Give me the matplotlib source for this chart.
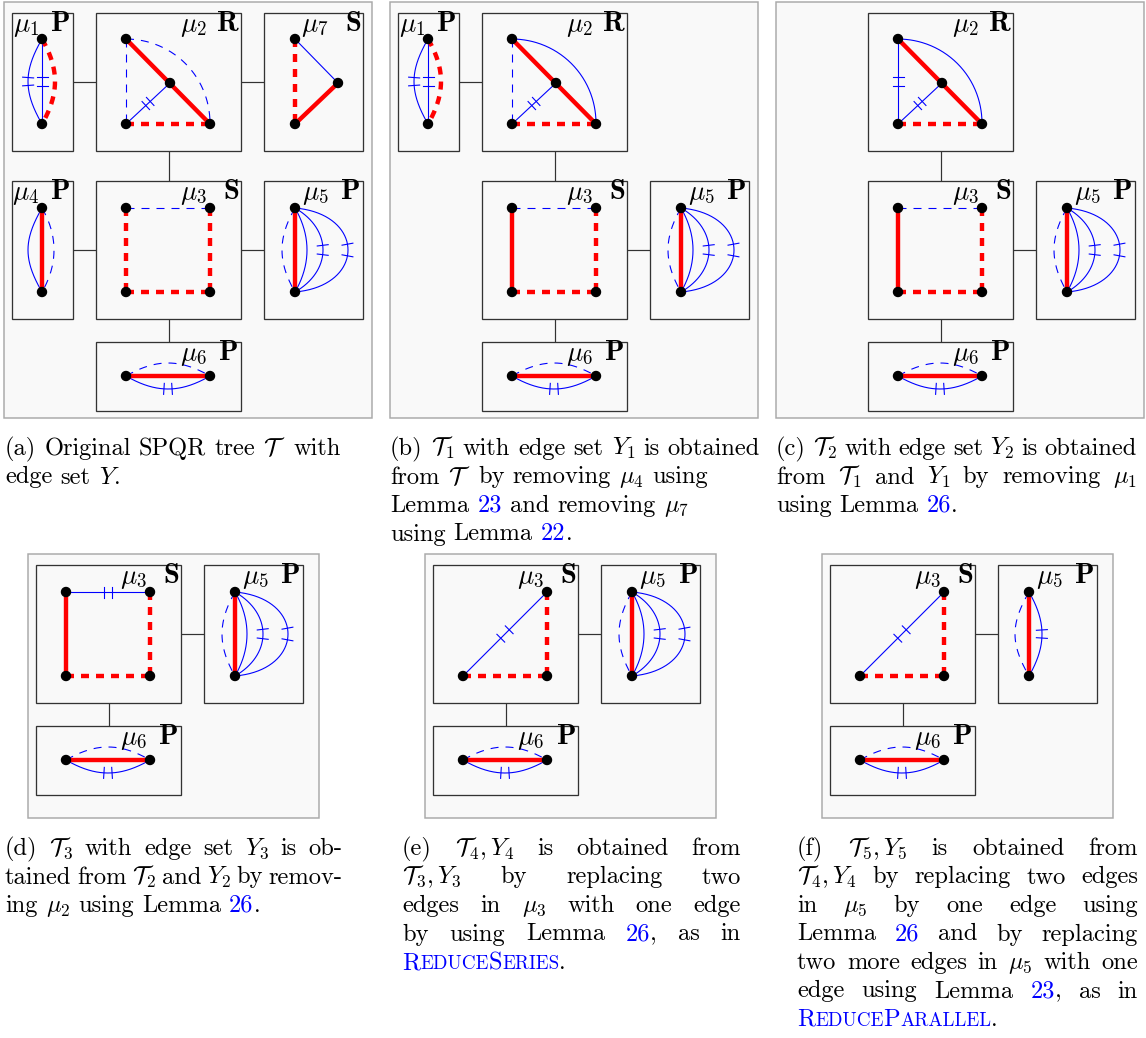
import re
import numpy as np
import matplotlib
matplotlib.use('Agg')
import matplotlib.pyplot as plt
from matplotlib.patches import Rectangle, Circle

plt.rcParams['mathtext.fontset'] = 'cm'
plt.rcParams['lines.scale_dashes'] = False

# ---- layout of the SPQR tree, in pixels of panel (a) ----
# node boxes: (left, top, right, bottom)
boxes = {
    1: (12, 13, 73, 151),
    2: (96, 13, 241, 151),
    7: (264, 13, 363, 151),
    4: (12, 181, 73, 319),
    3: (96, 181, 241, 319),
    5: (264, 181, 363, 319),
    6: (96, 342, 241, 411),
}
kinds = {1: 'P', 2: 'R', 7: 'S', 4: 'P', 3: 'S', 5: 'P', 6: 'P'}

verts = {
    1: {'t': (42, 39), 'b': (42, 124)},
    2: {'tl': (126, 39), 'm': (170, 83), 'bl': (126, 124), 'br': (210, 124)},
    7: {'t': (295, 39), 'r': (338, 83), 'b': (295, 124)},
    4: {'t': (42, 208), 'b': (42, 292)},
    3: {'tl': (126, 208), 'tr': (210, 208), 'bl': (126, 292), 'br': (210, 292)},
    5: {'t': (295, 208), 'b': (295, 292)},
    6: {'l': (126, 376), 'r': (210, 376)},
}

# edges: (u, v, style, bulge, out angle, double tick)
E_mu1 = [('t', 'b', 'B', -14, 30, 1), ('t', 'b', 'B', 0, 0, 1), ('t', 'b', 'Rd', 13, 30, 0)]
E_mu2_a = [('tl', 'bl', 'Bd', 0, 0, 0), ('bl', 'm', 'B', 0, 0, 1), ('tl', 'br', 'Bd', 25, 45, 0),
           ('tl', 'br', 'R', 0, 0, 0), ('bl', 'br', 'Rd', 0, 0, 0)]
E_mu2_b = [('tl', 'bl', 'Bd', 0, 0, 0), ('bl', 'm', 'B', 0, 0, 1), ('tl', 'br', 'B', 25, 45, 0),
           ('tl', 'br', 'R', 0, 0, 0), ('bl', 'br', 'Rd', 0, 0, 0)]
E_mu2_c = [('tl', 'bl', 'B', 0, 0, 1), ('bl', 'm', 'B', 0, 0, 1), ('tl', 'br', 'B', 25, 45, 0),
           ('tl', 'br', 'R', 0, 0, 0), ('bl', 'br', 'Rd', 0, 0, 0)]
E_mu7 = [('t', 'r', 'B', 0, 0, 0), ('t', 'b', 'Rd', 0, 0, 0), ('r', 'b', 'R', 0, 0, 0)]
E_mu4 = [('t', 'b', 'B', -14, 30, 0), ('t', 'b', 'Bd', 12, 30, 0), ('t', 'b', 'R', 0, 0, 0)]
E_mu3_a = [('tl', 'tr', 'Bd', 0, 0, 0), ('tl', 'bl', 'Rd', 0, 0, 0),
           ('tr', 'br', 'Rd', 0, 0, 0), ('bl', 'br', 'Rd', 0, 0, 0)]
E_mu3_b = [('tl', 'tr', 'Bd', 0, 0, 0), ('tl', 'bl', 'R', 0, 0, 0),
           ('tr', 'br', 'Rd', 0, 0, 0), ('bl', 'br', 'Rd', 0, 0, 0)]
E_mu3_d = [('tl', 'tr', 'B', 0, 0, 1), ('tl', 'bl', 'R', 0, 0, 0),
           ('tr', 'br', 'Rd', 0, 0, 0), ('bl', 'br', 'Rd', 0, 0, 0)]
E_mu3_e = [('bl', 'tr', 'B', 0, 0, 1), ('tr', 'br', 'Rd', 0, 0, 0), ('bl', 'br', 'Rd', 0, 0, 0)]
E_mu5 = [('t', 'b', 'Bd', -13, 30, 0), ('t', 'b', 'B', 12, 30, 0), ('t', 'b', 'B', 28, 60, 1),
         ('t', 'b', 'B', 53, 85, 1), ('t', 'b', 'R', 0, 0, 0)]
E_mu5_f = [('t', 'b', 'Bd', -14, 30, 0), ('t', 'b', 'B', 13, 30, 1), ('t', 'b', 'R', 0, 0, 0)]
E_mu6 = [('l', 'r', 'Bd', 13, 30, 0), ('l', 'r', 'B', -13, 30, 1), ('l', 'r', 'R', 0, 0, 0)]

FRAME_TOP = (4, 2, 372, 418)
FRAME_BOT = (88, 170, 379, 434)

panels = [
    ((0, 0), FRAME_TOP, {1: E_mu1, 2: E_mu2_a, 7: E_mu7, 4: E_mu4, 3: E_mu3_a, 5: E_mu5, 6: E_mu6},
     [(1, 2), (2, 7), (2, 3), (4, 3), (3, 5), (3, 6)]),
    ((386, 0), FRAME_TOP, {1: E_mu1, 2: E_mu2_b, 3: E_mu3_b, 5: E_mu5, 6: E_mu6},
     [(1, 2), (2, 3), (3, 5), (3, 6)]),
    ((772, 0), FRAME_TOP, {2: E_mu2_c, 3: E_mu3_b, 5: E_mu5, 6: E_mu6},
     [(2, 3), (3, 5), (3, 6)]),
    ((-60, 384), FRAME_BOT, {3: E_mu3_d, 5: E_mu5, 6: E_mu6}, [(3, 5), (3, 6)]),
    ((337, 384), FRAME_BOT, {3: E_mu3_e, 5: E_mu5, 6: E_mu6}, [(3, 5), (3, 6)]),
    ((734, 384), FRAME_BOT, {3: E_mu3_e, 5: E_mu5_f, 6: E_mu6}, [(3, 5), (3, 6)]),
]

# ---- captions: (x left, x right for justified lines, first baseline, lines) ----
cap_a = (5, None, 455, [("(a) Original SPQR tree $\\mathcal{T}$ with", 0),
                        ("edge set $Y$.", 0)])
cap_b = (390, None, 455, [("(b) $\\mathcal{T}_1$ with edge set $Y_1$ is obtained", 0),
                          ("from $\\mathcal{T}$ by removing $\\mu_4$ using", 0),
                          ("Lemma @23@ and removing $\\mu_7$", 0),
                          ("using Lemma @22@.", 0)])
cap_c = (776, 1137, 455, [("(c) $\\mathcal{T}_2$ with edge set $Y_2$ is obtained", 1),
                          ("from $\\mathcal{T}_1$ and $Y_1$ by removing $\\mu_1$", 1),
                          ("using Lemma @26@.", 0)])
cap_d = (5, 342, 855, [("(d) $\\mathcal{T}_3$ with edge set $Y_3$ is ob-", 1),
                       ("tained from $\\mathcal{T}_2$ and $Y_2$ by remov-", 1),
                       ("ing $\\mu_2$ using Lemma @26@.", 0)])
cap_e = (402, 741, 855, [("(e) $\\mathcal{T}_4,Y_4$ is obtained from", 1),
                         ("$\\mathcal{T}_3,Y_3$ by replacing two", 1),
                         ("edges in $\\mu_3$ with one edge", 1),
                         ("by using Lemma @26@, as in", 1),
                         ("~ReduceSeries~.", 0)])
cap_f = (797, 1138, 855, [("(f) $\\mathcal{T}_5,Y_5$ is obtained from", 1),
                          ("$\\mathcal{T}_4,Y_4$ by replacing two edges", 1),
                          ("in $\\mu_5$ by one edge using", 1),
                          ("Lemma @26@ and by replacing", 1),
                          ("two more edges in $\\mu_5$ with one", 1),
                          ("edge using Lemma @23@, as in", 1),
                          ("~ReduceParallel~.", 0)])
captions = [cap_a, cap_b, cap_c, cap_d, cap_e, cap_f]

RED = '#ff0000'
BLUE = '#0000ff'
FS = 17.6
FS_MU = 19.5
FS_KIND = 20.5
LINE_SKIP = 28.5
PT = 0.72  # points per pixel

styles = {
    'R': dict(color=RED, lw=4.4 * PT, dashes=None),
    'Rd': dict(color=RED, lw=4.4 * PT, dashes=(8 * PT, 7 * PT)),
    'B': dict(color=BLUE, lw=1.1 * PT, dashes=None),
    'Bd': dict(color=BLUE, lw=1.1 * PT, dashes=(8 * PT, 7 * PT)),
}

fig = plt.figure(figsize=(11.46, 10.38), dpi=100)
ax = fig.add_axes([0, 0, 1, 1])
ax.set_xlim(0, 1146)
ax.set_ylim(1038, 0)
ax.axis('off')


def curve(p0, p1, bulge, ang, n=201):
    p0 = np.array(p0, float)
    p1 = np.array(p1, float)
    u = p1 - p0
    u = u / np.hypot(*u)
    nrm = np.array([u[1], -u[0]])
    t = np.linspace(0, 1, n)[:, None]
    if bulge == 0:
        return p0 + t * (p1 - p0)
    s = np.sign(bulge)
    a = np.radians(ang)
    d = abs(bulge) / (0.75 * np.sin(a))
    c0 = p0 + d * (np.cos(a) * u + s * np.sin(a) * nrm)
    c1 = p1 + d * (-np.cos(a) * u + s * np.sin(a) * nrm)
    return (1 - t) ** 3 * p0 + 3 * (1 - t) ** 2 * t * c0 + 3 * (1 - t) * t ** 2 * c1 + t ** 3 * p1


def draw_edge(pts, style, ticks):
    st = styles[style]
    kw = dict(color=st['color'], lw=st['lw'], solid_capstyle='butt',
              dash_capstyle='butt', zorder=4 if style[0] == 'R' else 3)
    if st['dashes']:
        kw['dashes'] = st['dashes']
    ax.plot(pts[:, 0], pts[:, 1], **kw)
    if ticks:
        n = len(pts)
        for f in (0.45, 0.55):
            i = int(round(f * (n - 1)))
            tan = pts[min(i + 1, n - 1)] - pts[max(i - 1, 0)]
            tan = tan / np.hypot(*tan)
            perp = np.array([-tan[1], tan[0]])
            a = pts[i] - 5.5 * perp
            b = pts[i] + 5.5 * perp
            ax.plot([a[0], b[0]], [a[1], b[1]], color=BLUE, lw=1.1 * PT, zorder=3)


for (ox, oy), frame, nodes, tree in panels:
    fl, ft, fr, fb = frame
    ax.add_patch(Rectangle((fl + ox, ft + oy), fr - fl, fb - ft, facecolor='#f9f9f9',
                           edgecolor='#aaaaaa', lw=1.5 * PT, zorder=0))
    for a, b in tree:
        la, ta, ra, ba = boxes[a]
        lb, tb, rb, bb = boxes[b]
        ax.plot([(la + ra) / 2 + ox, (lb + rb) / 2 + ox], [(ta + ba) / 2 + oy, (tb + bb) / 2 + oy],
                color='#333333', lw=1.2 * PT, zorder=1)
    for k, edges in nodes.items():
        l, t, r, b = boxes[k]
        ax.add_patch(Rectangle((l + ox, t + oy), r - l, b - t, facecolor='#f9f9f9',
                               edgecolor='#333333', lw=1.3 * PT, zorder=2))
        ax.text(r - 34 + ox, t + 18 + oy, '$\\mu_%d$' % k, ha='right', va='baseline',
                fontsize=FS_MU, zorder=6)
        ax.text(r - 2 + ox, t + 18 + oy, kinds[k], ha='right', va='baseline',
                family='cmb10', fontsize=FS_KIND, zorder=6)
        used = set()
        for u, v, style, bulge, ang, ticks in edges:
            pu = np.add(verts[k][u], (ox, oy))
            pv = np.add(verts[k][v], (ox, oy))
            draw_edge(curve(pu, pv, bulge, ang), style, ticks)
            used.update([u, v])
        for name in used:
            x, y = verts[k][name]
            ax.add_patch(Circle((x + ox, y + oy), 4.5, color='black', zorder=8))


def word_pieces(word):
    out = []
    for part in re.split(r'(@[^@]*@|~[^~]*~)', word):
        if not part:
            continue
        if part[0] == '@':
            out.append((part[1:-1], 1.0, BLUE))
        elif part[0] == '~':
            for run in re.findall(r'[A-Z]+|[a-z]+', part[1:-1]):
                if run.isupper():
                    out.append((run, 1.0, BLUE))
                else:
                    out.append((run.upper(), 0.78, BLUE))
        else:
            out.append((part, 1.0, 'black'))
    return out


renderer = fig.canvas.get_renderer()
SPACE = 0.333 * FS * 100 / 72


def place_word(pieces, x, y):
    for txt, sc, col in pieces:
        tt = ax.text(x, y, txt, ha='left', va='baseline', family='cmr10',
                     fontsize=FS * sc, color=col)
        x += tt.get_window_extent(renderer=renderer).width
    return x


def word_width(pieces):
    w = 0
    for txt, sc, col in pieces:
        tt = ax.text(0, 0, txt, family='cmr10', fontsize=FS * sc)
        w += tt.get_window_extent(renderer=renderer).width
        tt.remove()
    return w


for x0, x1, y0, lines in captions:
    for j, (line, just) in enumerate(lines):
        y = y0 + j * LINE_SKIP
        words = [word_pieces(w) for w in line.split(' ')]
        if just and len(words) > 1:
            widths = [word_width(w) for w in words]
            gap = (x1 - x0 - sum(widths)) / (len(words) - 1)
        else:
            gap = SPACE
        x = x0
        for w in words:
            x = place_word(w, x, y) + gap

fig.savefig('out.png', dpi=100, facecolor='white')
